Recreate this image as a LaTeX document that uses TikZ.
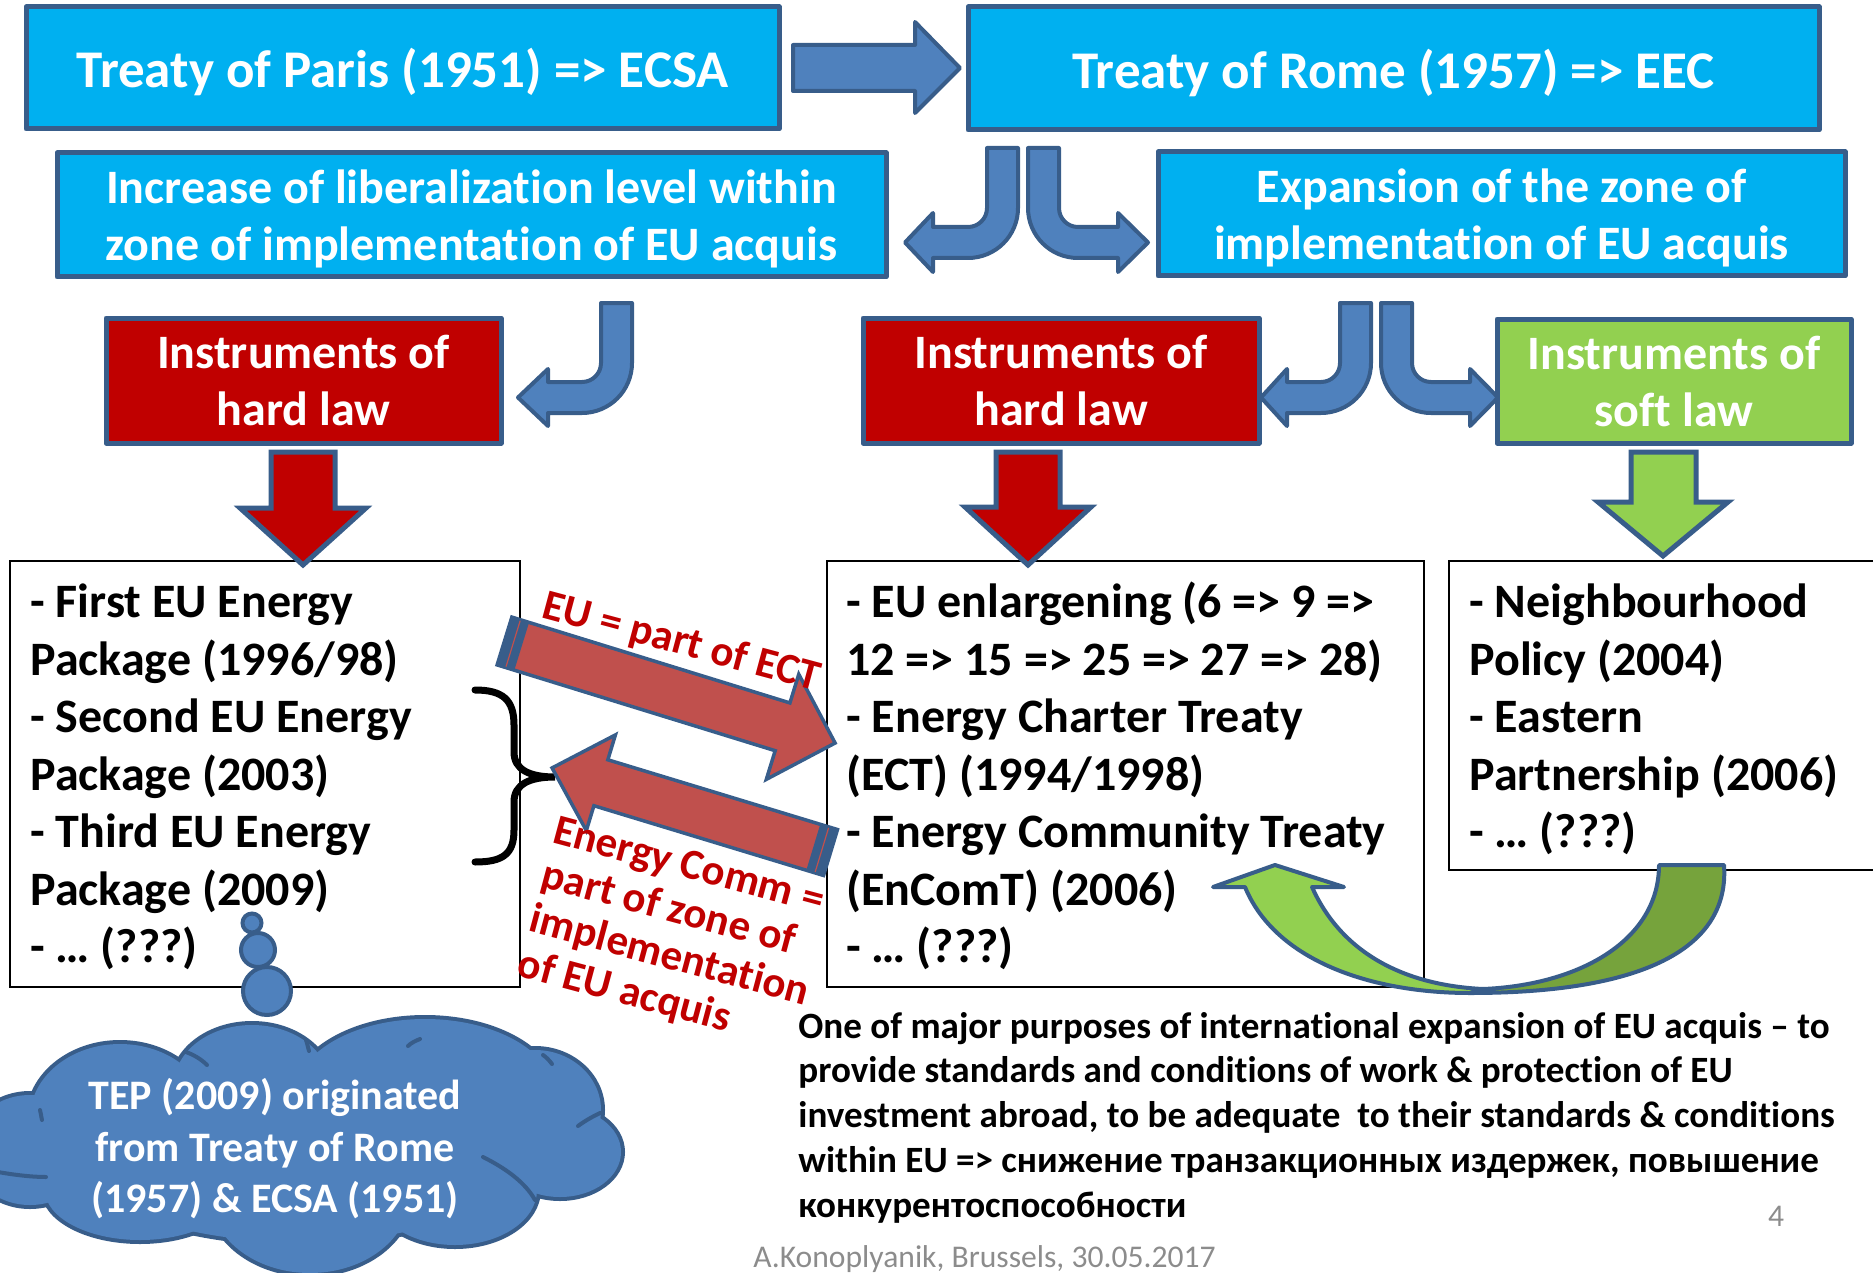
\documentclass[tikz,border=0pt]{standalone}
\usepackage{fontspec}
\setmainfont{Carlito}[Ligatures=NoCommon]

\definecolor{cyanfill}{HTML}{00B0F0}
\definecolor{edge}{HTML}{385D8A}
\definecolor{bluefill}{HTML}{4F81BD}
\definecolor{darkred}{HTML}{C00000}
\definecolor{lightgreen}{HTML}{92D050}
\definecolor{deepgreen}{HTML}{76A33C}
\definecolor{brick}{HTML}{C0504D}
\definecolor{footgray}{HTML}{8C8C8C}

% left-aligned lines, baseline of the block = baseline of its first line
\newcommand\linesleft[1]{\vtop{\halign{##\hfil\cr#1\crcr}}}
% puffs of the cloud: centre, x radius, y radius
\newcommand\cloudpuffs[1]{%
  #1 (120,1118) ellipse[x radius=90, y radius=74];
  #1 (252,1085) ellipse[x radius=78, y radius=60];
  #1 (425,1095) ellipse[x radius=130, y radius=76];
  #1 (535,1110) ellipse[x radius=66, y radius=60];
  #1 (560,1152) ellipse[x radius=61, y radius=45];
  #1 (455,1190) ellipse[x radius=82, y radius=55];
  #1 (310,1195) ellipse[x radius=100, y radius=78];
  #1 (140,1190) ellipse[x radius=95, y radius=50];
  #1 (30,1150) ellipse[x radius=62, y radius=55];
  #1 (300,1150) ellipse[x radius=230, y radius=92];}

\begin{document}
\begin{tikzpicture}[x=0.5pt,y=-0.5pt,
  titlebox/.style={draw=edge, line width=2.5pt, line join=round, fill=cyanfill,
    inner sep=0pt, text=white, align=center, text depth=0pt},
  titlefont/.style={font=\fontsize{26.5pt}{32pt}\selectfont\bfseries},
  subfont/.style={font=\fontsize{24pt}{28.5pt}\selectfont\bfseries},
  textframe/.style={draw=black, line width=1.2pt, fill=white, inner sep=0pt},
  bodytext/.style={inner sep=0pt, anchor=base west,
    font=\fontsize{24pt}{28.75pt}\selectfont\bfseries},
  blockarrow/.style={fill=bluefill, draw=edge, line width=2pt, line join=round},
  downarrow/.style={draw=edge, line width=2.5pt, line join=miter},
  slant/.style={fill=brick, draw=edge, line width=1.75pt, line join=miter},
  redlabel/.style={text=darkred, inner sep=0pt, anchor=base west, rotate=-15,
    font=\fontsize{21.5pt}{23pt}\selectfont\bfseries},
  bubble/.style={fill=bluefill, draw=edge, line width=2pt},
  greenarc/.style={draw=edge, line width=2pt, line join=round},
  puffline/.style={draw=edge, line width=2pt, line cap=round}
]
\useasboundingbox (0,0) rectangle (1873,1273);
\clip (0,0) rectangle (1873,1273);

% ---------- title boxes ----------
\node[titlebox, titlefont, minimum width=376.5pt, minimum height=61pt]
  (paris) at (402.5,68) {Treaty of Paris (1951) => ECSA};
\node[titlebox, titlefont, minimum width=425.5pt, minimum height=61.5pt]
  (rome) at (1393.5,68.5) {Treaty of Rome (1957) => EEC};
\node[titlebox, subfont, minimum width=414.5pt, minimum height=62pt]
  (liberal) at (471.5,215) {Increase of liberalization level within\\zone of implementation of EU acquis};
\node[titlebox, subfont, minimum width=343.5pt, minimum height=62pt]
  (expand) at (1501.5,214) {Expansion of the zone of\\implementation of EU acquis};
\node[titlebox, subfont, fill=darkred, minimum width=197.5pt, minimum height=62.5pt]
  (hardA) at (303.5,380.5) {Instruments of\\hard law};
\node[titlebox, subfont, fill=darkred, minimum width=198pt, minimum height=62.5pt]
  (hardB) at (1061,380.5) {Instruments of\\hard law};
\node[titlebox, subfont, fill=lightgreen, minimum width=177pt, minimum height=62pt]
  (soft) at (1674,381) {Instruments of\\soft law};

% ---------- text frames ----------
\node[textframe, minimum width=255pt, minimum height=213pt] (packs) at (265,774) {};
\node[textframe, minimum width=298.5pt, minimum height=213pt] (treaties) at (1125.5,774) {};
\node[textframe, minimum width=223pt, minimum height=154.5pt] (policy) at (1672,715.5) {};

\node[bodytext] (packstext) at (30,617.5) {\linesleft{%
- First EU Energy\cr Package (1996/98)\cr - Second EU Energy\cr Package (2003)\cr
- Third EU Energy\cr Package (2009)\cr - … (???)}};
\node[bodytext] (treatiestext) at (846,617.5) {\linesleft{%
- EU enlargening (6 => 9 =>\cr 12 => 15 => 25 => 27 => 28)\cr - Energy Charter Treaty\cr
(ECT) (1994/1998)\cr - Energy Community Treaty\cr (EnComT) (2006)\cr - … (???)}};
\node[bodytext] (policytext) at (1469,617.5) {\linesleft{%
- Neighbourhood\cr Policy (2004)\cr - Eastern\cr Partnership (2006)\cr - … (???)}};

% ---------- straight arrow Paris -> Rome ----------
\draw[blockarrow] (793,45) -- (915,45) -- (915,22) -- (960,68) -- (915,113)
  -- (915,91) -- (793,91) -- cycle;

% ---------- bent arrows ----------
\draw[blockarrow] (987,148) -- (1018,148) -- (1018,208)
  arc[start angle=0, end angle=90, radius=50] -- (933,258) -- (933,272)
  -- (905,242.5) -- (933,213) -- (933,227) -- (968,227)
  arc[start angle=90, end angle=0, radius=19] -- cycle;
\draw[blockarrow] (1059,148) -- (1028,148) -- (1028,208)
  arc[start angle=180, end angle=90, radius=50] -- (1118,258) -- (1118,272)
  -- (1148,242.5) -- (1118,213) -- (1118,227) -- (1078,227)
  arc[start angle=90, end angle=180, radius=19] -- cycle;
\draw[blockarrow] (601,303) -- (632,303) -- (632,363)
  arc[start angle=0, end angle=90, radius=50] -- (548,413) -- (548,426)
  -- (518,397.5) -- (548,369) -- (548,382) -- (582,382)
  arc[start angle=90, end angle=0, radius=19] -- cycle;
\draw[blockarrow] (1340,303) -- (1371,303) -- (1371,363)
  arc[start angle=0, end angle=90, radius=50] -- (1287,413) -- (1287,426)
  -- (1261,397.5) -- (1287,369) -- (1287,382) -- (1321,382)
  arc[start angle=90, end angle=0, radius=19] -- cycle;
\draw[blockarrow] (1412,303) -- (1381,303) -- (1381,363)
  arc[start angle=180, end angle=90, radius=50] -- (1470,413) -- (1470,426)
  -- (1498,397.5) -- (1470,369) -- (1470,382) -- (1431,382)
  arc[start angle=90, end angle=180, radius=19] -- cycle;

% ---------- down arrows ----------
\draw[downarrow, fill=darkred] (271,452) -- (335,452) -- (335,508) -- (366,508)
  -- (303,565) -- (240,508) -- (271,508) -- cycle;
\draw[downarrow, fill=darkred] (996,452) -- (1060,452) -- (1060,507) -- (1091,507)
  -- (1028,565) -- (965,507) -- (996,507) -- cycle;
\draw[downarrow, fill=lightgreen] (1631,452) -- (1696,452) -- (1696,502) -- (1728,502)
  -- (1663,556) -- (1598,502) -- (1631,502) -- cycle;

% ---------- brace ----------
\draw[line width=3.5pt, line cap=round] (475,690) .. controls (503,690) and (514,700) .. (514,725)
  -- (514,752) .. controls (514,770) and (530,777) .. (555,777)
  .. controls (530,777) and (514,784) .. (514,802)
  -- (514,830) .. controls (514,854) and (503,862) .. (475,862);

% ---------- slanted arrows ----------
\begin{scope}[shift={(504.5,641)}, rotate=-17.15]
  \draw[slant] (0,-25) -- (291,-25) -- (291,-55) -- (346,0) -- (291,55) -- (291,25)
    -- (0,25) -- cycle;
  \fill[edge] (-1,-26) rectangle (18,26);
  \draw[brick, line width=0.6pt] (9,-24) -- (9,24);
\end{scope}
\begin{scope}[shift={(830.5,852.5)}, rotate=163.1]
  \draw[slant] (0,-24) -- (240,-24) -- (240,-50) -- (291,0) -- (240,50) -- (240,24)
    -- (0,24) -- cycle;
  \fill[edge] (-1,-25) rectangle (18,25);
  \draw[brick, line width=0.6pt] (9,-23) -- (9,23);
\end{scope}

\node[redlabel] (ectlabel) at (540,617) {EU = part of ECT};
\node[redlabel] (enclabel) at (551,842) {\linesleft{Energy Comm =\cr part of zone of\cr implementation\cr of EU acquis}};

% ---------- curved green arrow ----------
\draw[greenarc, fill=deepgreen] (1659,865) -- (1724,865)
  .. controls (1730,950) and (1640,993) .. (1470,993)
  -- (1483,989) .. controls (1580,985) and (1659,940) .. (1659,865) -- cycle;
\draw[greenarc, fill=lightgreen] (1213,887) -- (1275,865) -- (1344,887) -- (1312,887)
  .. controls (1340,950) and (1400,985) .. (1483,989)
  -- (1470,993) .. controls (1370,993) and (1275,960) .. (1245,887) -- cycle;

% ---------- thought bubbles and cloud ----------
% outline of the puffs first, then their fill on top: only the outer rim stays
\begin{scope}[draw=edge, line width=4pt]
  \cloudpuffs{\draw}
\end{scope}
\begin{scope}[fill=bluefill]
  \cloudpuffs{\fill}
\end{scope}
% inner strokes where the puffs meet
\draw[puffline] (483,1157) .. controls (505,1168) and (525,1182) .. (535,1200);
\draw[puffline] (-2,1172) .. controls (15,1175) and (32,1177) .. (46,1177);
\draw[puffline] (186,1052) .. controls (194,1055) and (201,1059) .. (207,1065);
\draw[puffline] (306,1040) .. controls (307,1043) and (308,1047) .. (309,1051);
\draw[puffline] (408,1046) .. controls (411,1043) and (415,1041) .. (420,1039);
\draw[puffline] (543,1055) .. controls (546,1057) and (549,1060) .. (552,1064);
\draw[puffline] (578,1126) .. controls (586,1120) and (594,1116) .. (600,1113);
\draw[puffline] (40,1110) .. controls (41,1113) and (41,1116) .. (42,1120);

\draw[bubble] (252,923) circle[radius=9.5];
\draw[bubble] (258,950) circle[radius=17];
\draw[bubble] (267,991) circle[radius=24];
\node[text=white, align=center, inner sep=0pt,
  font=\fontsize{21pt}{25.75pt}\selectfont\bfseries] (cloudtext) at (275,1149)
  {TEP (2009) originated\\from Treaty of Rome\\(1957) \& ECSA (1951)};

% ---------- closing note ----------
\node[bodytext, font=\fontsize{18.55pt}{22.45pt}\selectfont\bfseries] (note) at (798,1038) {\linesleft{%
One of major purposes of international expansion of EU acquis – to\cr
provide standards and conditions of work \& protection of EU\cr
investment abroad, to be adequate\ \ to their standards \& conditions\cr
within EU => снижение транзакционных издержек, повышение\cr
конкурентоспособности}};

\node[text=footgray, inner sep=0pt, anchor=base west, font=\fontsize{15.8pt}{19pt}\selectfont]
  (author) at (753,1267) {A.Konoplyanik, Brussels, 30.05.2017};
\node[text=footgray, inner sep=0pt, anchor=base, font=\fontsize{15.8pt}{19pt}\selectfont]
  (pageno) at (1776,1226) {4};
\end{tikzpicture}
\end{document}
